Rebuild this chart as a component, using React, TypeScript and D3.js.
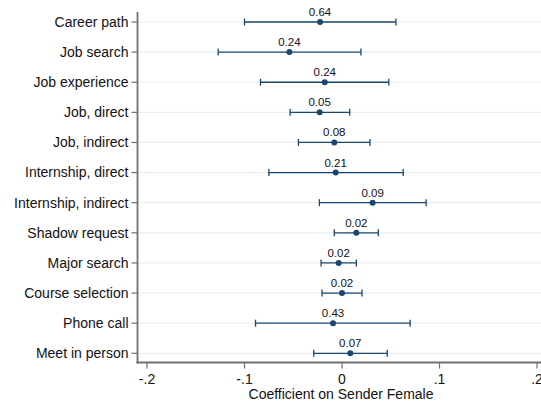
import * as d3 from 'd3';
import { useEffect, useRef } from 'react';

const categories = [
  'Career path', 'Job search', 'Job experience', 'Job, direct', 'Job, indirect',
  'Internship, direct', 'Internship, indirect', 'Shadow request', 'Major search',
  'Course selection', 'Phone call', 'Meet in person',
];
const estimates = [-0.0225, -0.054, -0.0177, -0.0229, -0.0079, -0.0065, 0.0314, 0.0147, -0.0034, 0.0, -0.0092, 0.0085];
const lowerCI = [-0.100, -0.127, -0.0836, -0.0532, -0.0447, -0.075, -0.0232, -0.0079, -0.0215, -0.0205, -0.0887, -0.029];
const upperCI = [0.0553, 0.0194, 0.048, 0.0079, 0.0287, 0.0628, 0.0863, 0.0372, 0.0147, 0.0205, 0.0699, 0.0464];
const pLabels = ['0.64', '0.24', '0.24', '0.05', '0.08', '0.21', '0.09', '0.02', '0.02', '0.02', '0.43', '0.07'];
const xTicks = [-0.2, -0.1, 0, 0.1, 0.2];
const xTickLabels = ['-.2', '-.1', '0', '.1', '.2'];

export default function App() {
  const svgRef = useRef(null);

  useEffect(() => {
    const width = 541;
    const svg = d3.select(svgRef.current);
    svg.selectAll('*').remove();

    const font = 'Liberation Sans, Arial, Helvetica, sans-serif';
    const navy = '#1a476f';
    const axisColor = '#707070';
    const left = 137.5, bottom = 362.5, top = 12;

    const x = d3.scaleLinear().domain([-0.2, 0.2]).range([147, 537]);
    const y = d3.scalePoint().domain(categories).range([22, 353.3]);

    const data = categories.map((c, i) => ({
      cat: c, est: estimates[i], lo: lowerCI[i], hi: upperCI[i], p: pLabels[i],
    }));

    // gridlines
    svg.append('g').selectAll('line').data(categories).join('line')
      .attr('x1', left).attr('x2', width)
      .attr('y1', d => y(d)).attr('y2', d => y(d))
      .attr('stroke', '#e9f0f2').attr('stroke-width', 1.2);

    // y axis
    svg.append('line')
      .attr('x1', left).attr('x2', left).attr('y1', top).attr('y2', bottom + 1)
      .attr('stroke', axisColor).attr('stroke-width', 1.8);
    const yg = svg.append('g');
    yg.selectAll('line').data(categories).join('line')
      .attr('x1', left - 6).attr('x2', left)
      .attr('y1', d => y(d)).attr('y2', d => y(d))
      .attr('stroke', axisColor).attr('stroke-width', 1.2);
    yg.selectAll('text').data(categories).join('text')
      .attr('x', left - 9).attr('y', d => y(d)).attr('dy', '0.35em')
      .attr('text-anchor', 'end').attr('font-family', font).attr('font-size', 14)
      .attr('fill', '#111').text(d => d);

    // x axis
    svg.append('line')
      .attr('x1', left - 1).attr('x2', width).attr('y1', bottom).attr('y2', bottom)
      .attr('stroke', axisColor).attr('stroke-width', 1.8);
    const xg = svg.append('g');
    xg.selectAll('line').data(xTicks).join('line')
      .attr('x1', d => x(d)).attr('x2', d => x(d))
      .attr('y1', bottom).attr('y2', bottom + 6)
      .attr('stroke', axisColor).attr('stroke-width', 1.2);
    xg.selectAll('text').data(xTicks).join('text')
      .attr('x', d => x(d)).attr('y', bottom + 21.5)
      .attr('text-anchor', 'middle').attr('font-family', font).attr('font-size', 14)
      .attr('fill', '#111').text((d, i) => xTickLabels[i]);

    svg.append('text')
      .attr('x', 341).attr('y', 398.5)
      .attr('text-anchor', 'middle').attr('font-family', font).attr('font-size', 14)
      .attr('fill', '#111').text('Coefficient on Sender Female');

    // CIs
    const g = svg.append('g');
    g.selectAll('line.ci').data(data).join('line').attr('class', 'ci')
      .attr('x1', d => x(d.lo)).attr('x2', d => x(d.hi))
      .attr('y1', d => y(d.cat)).attr('y2', d => y(d.cat))
      .attr('stroke', navy).attr('stroke-width', 1.3);
    g.selectAll('line.caplo').data(data).join('line').attr('class', 'caplo')
      .attr('x1', d => x(d.lo)).attr('x2', d => x(d.lo))
      .attr('y1', d => y(d.cat) - 3.5).attr('y2', d => y(d.cat) + 3.5)
      .attr('stroke', navy).attr('stroke-width', 1.3);
    g.selectAll('line.caphi').data(data).join('line').attr('class', 'caphi')
      .attr('x1', d => x(d.hi)).attr('x2', d => x(d.hi))
      .attr('y1', d => y(d.cat) - 3.5).attr('y2', d => y(d.cat) + 3.5)
      .attr('stroke', navy).attr('stroke-width', 1.3);
    g.selectAll('circle').data(data).join('circle')
      .attr('cx', d => x(d.est)).attr('cy', d => y(d.cat)).attr('r', 3)
      .attr('fill', navy);
    g.selectAll('text').data(data).join('text')
      .attr('x', d => x(d.est)).attr('y', d => y(d.cat) - 6)
      .attr('text-anchor', 'middle').attr('font-family', font).attr('font-size', 11.5)
      .attr('fill', '#111').text(d => d.p);
  }, []);

  return (
    <div style={{ position: 'absolute', left: 0, top: 0 }}>
      <svg ref={svgRef} width={541} height={402} style={{ display: 'block', background: '#fff' }}></svg>
    </div>
  );
}
